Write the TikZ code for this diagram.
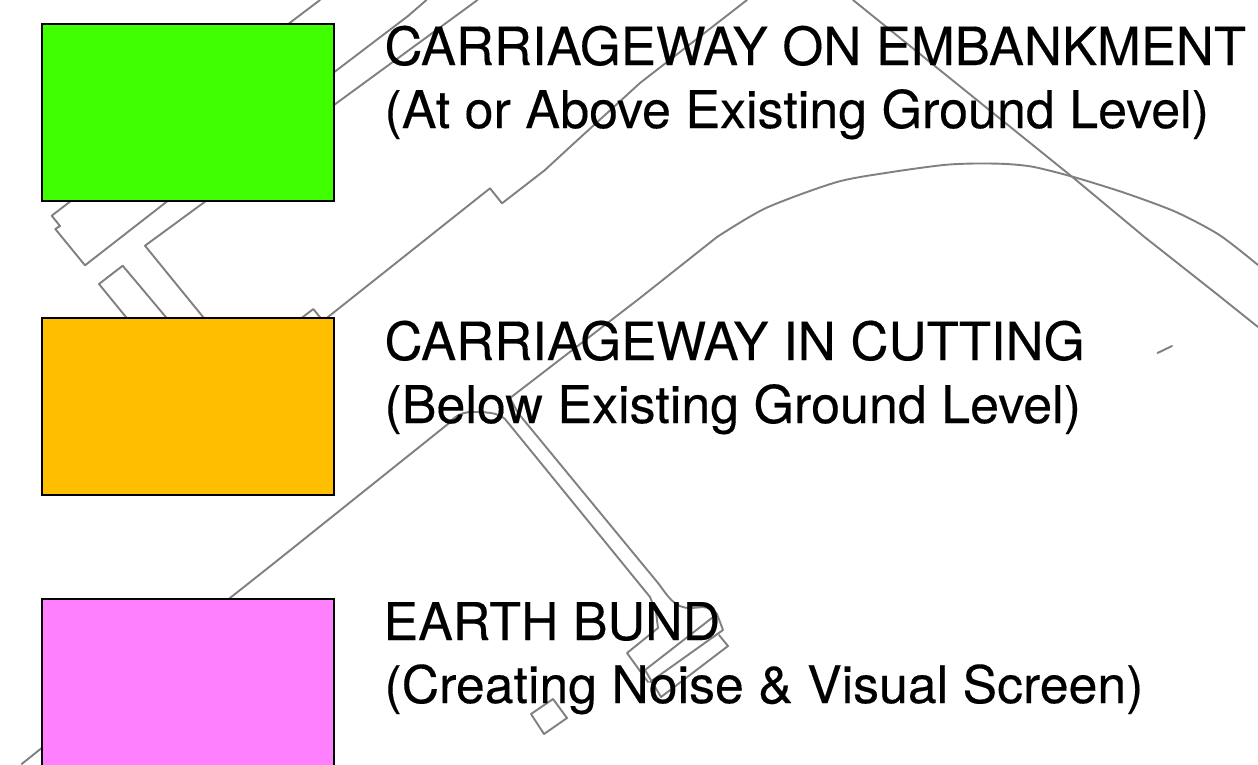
\documentclass[tikz,border=0pt]{standalone}
\usepackage{fontspec}
\setmainfont{TeX Gyre Heros}
\newfontfamily\legendfont[AutoFakeBold=0.25]{TeX Gyre Heros}
\definecolor{plangrey}{HTML}{808080}
\definecolor{embank}{HTML}{40FF00}
\definecolor{cutting}{HTML}{FFBF00}
\definecolor{bund}{HTML}{FF80FF}
\tikzset{
  planline/.style={draw=plangrey,line width=1.9pt,line join=round,line cap=round},
  swatch/.style={draw=black,line width=1.7pt,fill=#1,inner sep=0pt,outer sep=0pt,anchor=north west,minimum width=292pt,minimum height=177pt},
  legendtext/.style={anchor=base west,inner sep=0pt,outer sep=0pt,text=black,font=\legendfont\bfseries\fontsize{#1}{60}\selectfont}
}
\begin{document}
\begin{tikzpicture}[x=1pt,y=-1pt]
\useasboundingbox (0,0) rectangle (1258,764);
\clip (0,0) rectangle (1258,764);
\fill[white] (0,0) rectangle (1258,764);
% plan outlines
\draw[planline] (320,0) -- (290,22.7) -- (70,201.7) -- (51.7,215.7) -- (60,226) -- (55.3,229) -- (85,265.3) -- (166.7,201.7) -- (334,72.3) -- (408,16) -- (426.5,0);
\draw[planline] (477.5,0) -- (334,105) -- (205,201.7) -- (145,245.7) -- (203.3,317.3) -- (210,326);
\draw[planline] (130,322) -- (99,284) -- (122.7,265.7) -- (170,322);
\draw[planline] (295,323) -- (313.3,309) -- (323,321) -- (328,317) -- (490,188.3) -- (502,203.3) -- (545,170) -- (571,146) -- (640,83) -- (747,0);
\draw[planline] (853,0) -- (1073.6,178) -- (1144.5,237) -- (1215.5,293) -- (1258,327);
\draw[planline] plot[smooth,tension=0.45] coordinates {(1258,265) (1219.4,235) (1176,212) (1125,193) (1073.6,177) (1034,167) (1006.6,164) (975,163.5) (943.5,165) (892,172) (837,182) (766,208) (717,237)};
\draw[planline] (717,237) -- (640,298) -- (510,398) -- (518,413) -- (658,583) .. controls (668,596) and (674,608) .. (690,608) .. controls (700,608) and (708,604) .. (717,614) -- (723,630) -- (650,682);
\draw[planline] (717,614) -- (645,670) -- (661,697) -- (728,646) -- (719,635);
\draw[planline] (21.7,764) -- (41.7,748) -- (230,598) -- (278,560) -- (448,424) .. controls (454,417) and (460,413) .. (470,412) .. controls (485,412) and (497,412) .. (505,419) -- (650,597) -- (656,612) -- (658,628) -- (627,653) -- (648,682);
\draw[planline] (553,699) -- (567,718) -- (544,734) -- (531,714) -- cycle;
\draw[planline] (1157.5,353) -- (1172,346);
% legend swatches
\node[swatch=embank] (sa) at (42,24) {};
\node[swatch=cutting] (sb) at (42,318) {};
\node[swatch=bund] (sc) at (42,599) {};
% legend text
\node[legendtext=52.6] (ta) at (384.5,65) {CARRIAGEWAY ON EMBANKMENT};
\node[legendtext=52] (tb) at (384.5,128) {(At or Above Existing Ground Level)};
\node[legendtext=52.7] (tc) at (384.5,360) {CARRIAGEWAY IN CUTTING};
\node[legendtext=52] (td) at (384.5,423) {(Below Existing Ground Level)};
\node[legendtext=52] (te) at (383.5,640) {EARTH BUND};
\node[legendtext=51.8] (tf) at (384.5,703) {(Creating Noise \& Visual Screen)};
\end{tikzpicture}
\end{document}
